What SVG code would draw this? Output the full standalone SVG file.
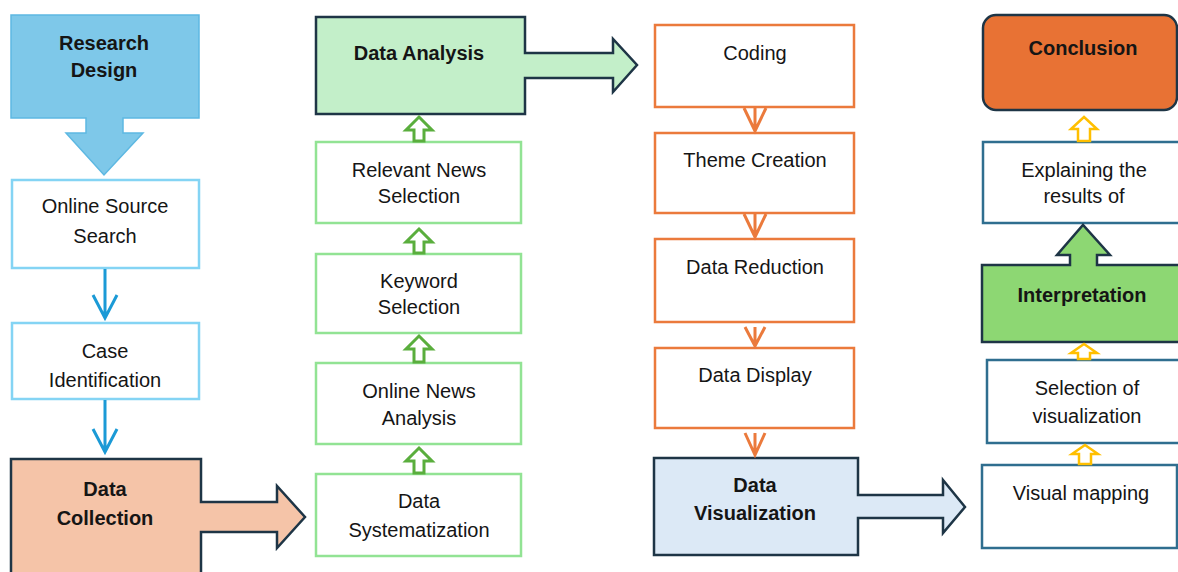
<svg xmlns="http://www.w3.org/2000/svg" width="1178" height="572" viewBox="0 0 1178 572">
  <style>
    text { font-family: "Liberation Sans", Arial, sans-serif; font-size: 20px; fill: #151515; text-anchor: middle; }
    .b { font-weight: bold; }
    .dark { stroke: #1E3546; stroke-width: 2.5; stroke-linejoin: miter; }
    .lblue { fill: #fff; stroke: #84D4F4; stroke-width: 2.5; }
    .lgreen { fill: #fff; stroke: #92E394; stroke-width: 2.5; }
    .orange { fill: #fff; stroke: #EB7A3C; stroke-width: 2.5; }
    .steel { fill: #fff; stroke: #2F6E8F; stroke-width: 2.5; }
    .blue-link { fill: none; stroke: #1B9AD6; stroke-width: 3; }
    .orange-link { fill: none; stroke: #EB7A3C; stroke-width: 3; }
    .green-up { fill: #fff; stroke: #5AAE3D; stroke-width: 3; }
    .yellow-up { fill: #fff; stroke: #FFBF00; stroke-width: 2.5; }
  </style>
  <rect width="1178" height="572" fill="#fff"/>

  <!-- column 1 -->
  <g id="research-design">
    <path d="M11,15 H199 V118 H123 V133 H143 L104,175 L66,133 H86 V118 H11 Z" fill="#7EC8E9" stroke="#5DB8E2" stroke-width="1.5"/>
    <text class="b" x="104" y="50">Research</text>
    <text class="b" x="104" y="77">Design</text>
  </g>
  <g id="online-source-search">
    <rect class="lblue" x="12" y="180" width="187" height="88"/>
    <text x="105" y="213">Online Source</text>
    <text x="105" y="243">Search</text>
  </g>
  <g id="case-identification">
    <rect class="lblue" x="12" y="323" width="187" height="76"/>
    <text x="105" y="358">Case</text>
    <text x="105" y="387">Identification</text>
  </g>
  <g id="data-collection">
    <path class="dark" d="M11,459 H201 V502 H277 V486 L305,517 L277,548 V532 H201 V585 H11 Z" fill="#F5C4A8"/>
    <text class="b" x="105" y="496">Data</text>
    <text class="b" x="105" y="525">Collection</text>
  </g>

  <!-- column 2 -->
  <g id="data-analysis">
    <path class="dark" d="M316,17 H525 V53 H613 V39 L637,65 L613,92 V78 H525 V114 H316 Z" fill="#C3EFC9"/>
    <text class="b" x="419" y="60">Data Analysis</text>
  </g>
  <g id="relevant-news-selection">
    <rect class="lgreen" x="316" y="142" width="205" height="81"/>
    <text x="419" y="177">Relevant News</text>
    <text x="419" y="203">Selection</text>
  </g>
  <g id="keyword-selection">
    <rect class="lgreen" x="316" y="254" width="205" height="79"/>
    <text x="419" y="288">Keyword</text>
    <text x="419" y="314">Selection</text>
  </g>
  <g id="online-news-analysis">
    <rect class="lgreen" x="316" y="363" width="205" height="81"/>
    <text x="419" y="398">Online News</text>
    <text x="419" y="425">Analysis</text>
  </g>
  <g id="data-systematization">
    <rect class="lgreen" x="316" y="474" width="205" height="82"/>
    <text x="419" y="508">Data</text>
    <text x="419" y="537">Systematization</text>
  </g>

  <!-- column 3 -->
  <g id="coding">
    <rect class="orange" x="655" y="25" width="199" height="82"/>
    <text x="755" y="60">Coding</text>
  </g>
  <g id="theme-creation">
    <rect class="orange" x="655" y="133" width="199" height="80"/>
    <text x="755" y="167">Theme Creation</text>
  </g>
  <g id="data-reduction">
    <rect class="orange" x="655" y="239" width="199" height="83"/>
    <text x="755" y="274">Data Reduction</text>
  </g>
  <g id="data-display">
    <rect class="orange" x="655" y="348" width="199" height="80"/>
    <text x="755" y="382">Data Display</text>
  </g>
  <g id="data-visualization">
    <path class="dark" d="M654,458 H858 V495 H943 V480 L965,507 L943,533 V518 H858 V555 H654 Z" fill="#DCE9F6"/>
    <text class="b" x="755" y="492">Data</text>
    <text class="b" x="755" y="520">Visualization</text>
  </g>

  <!-- column 4 -->
  <g id="conclusion">
    <rect class="dark" x="983" y="15" width="194" height="95" rx="13" fill="#E87234"/>
    <text class="b" x="1083" y="55">Conclusion</text>
  </g>
  <g id="explaining-results">
    <rect class="steel" x="983" y="142" width="210" height="81"/>
    <text x="1084" y="177">Explaining the</text>
    <text x="1084" y="203">results of</text>
  </g>
  <g id="interpretation">
    <path class="dark" d="M982,265 H1070 V255 H1057 L1083,225 L1110,255 H1097 V265 H1195 V342 H982 Z" fill="#8DD773"/>
    <text class="b" x="1082" y="302">Interpretation</text>
  </g>
  <g id="selection-of-visualization">
    <rect class="steel" x="987" y="360" width="210" height="83"/>
    <text x="1087" y="395">Selection of</text>
    <text x="1087" y="423">visualization</text>
  </g>
  <g id="visual-mapping">
    <rect class="steel" x="982" y="465" width="195" height="83"/>
    <text x="1081" y="500">Visual mapping</text>
  </g>

  <!-- connectors -->
  <g id="connectors">
    <!-- blue down links -->
    <path class="blue-link" d="M105,269 V318 M93,295 L105,318 L117,295"/>
    <path class="blue-link" d="M105,400 V452 M93,429 L105,452 L117,429"/>
    <!-- green hollow up arrows -->
    <path class="green-up" d="M419,117 L432,130 H424 V141 H414 V130 H406 Z"/>
    <path class="green-up" d="M419,229 L432,242 H424 V253 H414 V242 H406 Z"/>
    <path class="green-up" d="M419,336 L432,349 H424 V362 H414 V349 H406 Z"/>
    <path class="green-up" d="M419,448 L432,461 H424 V473 H414 V461 H406 Z"/>
    <!-- orange down links -->
    <path class="orange-link" d="M755,108 V131 M744,108 L755,131 L766,108"/>
    <path class="orange-link" d="M755,214 V237 M744,214 L755,237 L766,214"/>
    <path class="orange-link" d="M755,327 V346 M745,327 L755,346 L765,327"/>
    <path class="orange-link" d="M755,433 V455 M745,433 L755,455 L765,433"/>
    <!-- yellow hollow up arrows -->
    <path class="yellow-up" d="M1084,117 L1097,129 H1090 V141 H1078 V129 H1071 Z"/>
    <path class="yellow-up" d="M1084,344 L1097,353 H1090 V359 H1078 V353 H1071 Z"/>
    <path class="yellow-up" d="M1085,445 L1098,454 H1091 V464 H1079 V454 H1072 Z"/>
  </g>
</svg>
